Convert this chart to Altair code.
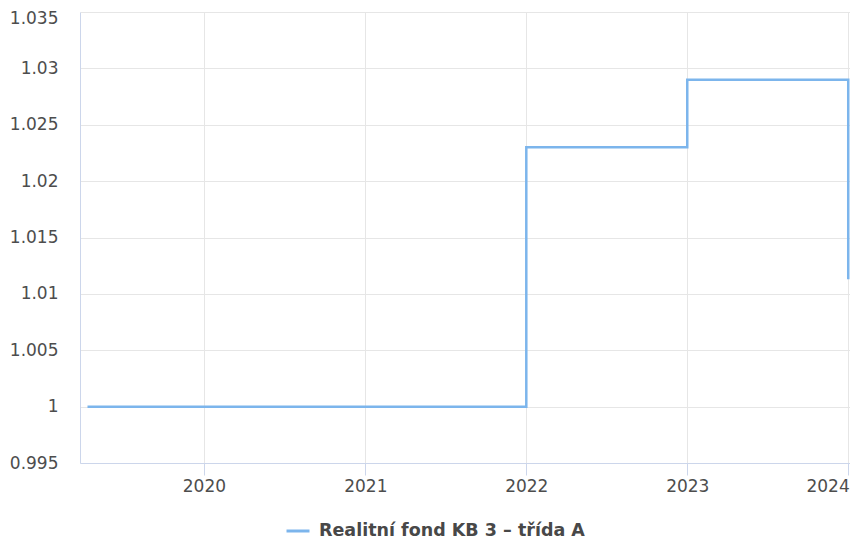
import altair as alt
import pandas as pd

series_name = "Realitní fond KB 3 – třída A"
dates = ["2019-04-12", "2022-01-01", "2023-01-01", "2024-01-01"]
values = [1.0, 1.023, 1.029, 1.0113]
x_domain = ["2019-03-26", "2024-01-05"]
y_ticks = [0.995, 1.0, 1.005, 1.01, 1.015, 1.02, 1.025, 1.03, 1.035]

df = pd.DataFrame({"date": dates, "value": values, "series": [series_name] * len(dates)})

chart = alt.Chart(df).mark_line(
    interpolate="step-after", strokeWidth=2.5, clip=True
).encode(
    x=alt.X("date:T",
            scale=alt.Scale(type="utc", domain=x_domain),
            axis=alt.Axis(title=None, format="%Y", tickCount={"interval": "year", "step": 1},
                          labelFlush=14, labelFlushOffset=1,
                          tickSize=12, labelPadding=3, tickColor="#ccd6eb",
                          domainColor="#ccd6eb")),
    y=alt.Y("value:Q",
            scale=alt.Scale(domain=[0.995, 1.035], nice=False, zero=False),
            axis=alt.Axis(title=None, values=y_ticks, format="~g", tickSize=0,
                          labelPadding=22, domainColor="#ccd6eb",
                          labelOffset={"condition": {"test": "datum.value > 1.034", "value": 6},
                                       "value": 0})),
    color=alt.Color("series:N",
                    scale=alt.Scale(range=["#7cb5ec"]),
                    legend=alt.Legend(title=None, orient="none", legendX=205, legendY=506,
                                      symbolType="stroke", symbolSize=529, symbolStrokeWidth=3,
                                      labelFontSize=17.5, labelFontWeight="bold",
                                      labelColor="#484848", labelFont="DejaVu Sans",
                                      labelOffset=8, padding=0, labelLimit=400)),
).properties(
    width=770, height=451,
    autosize=alt.AutoSizeParams(type="none"),
    padding={"left": 72, "top": 4, "right": 0, "bottom": 77},
).configure_axis(
    labelFont="DejaVu Sans", labelFontSize=17, labelColor="#4d4d4d",
    gridColor="#e6e6e6", gridWidth=1, domainWidth=1,
).configure_view(
    stroke=None
)

chart.save("out.html", embed_options={"renderer": "svg", "actions": False})
